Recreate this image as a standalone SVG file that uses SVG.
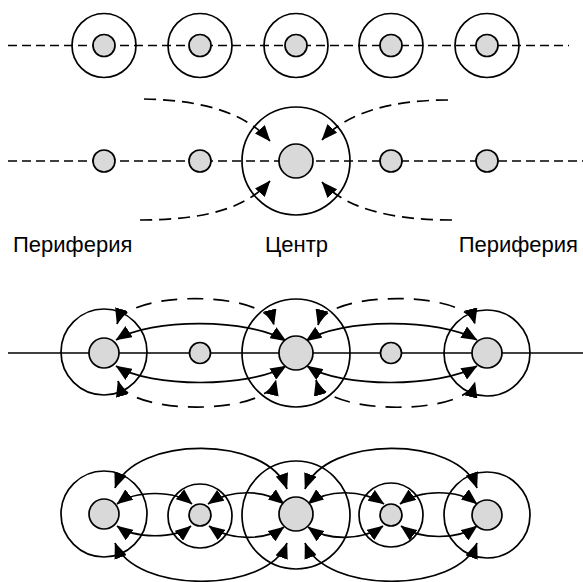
<svg xmlns="http://www.w3.org/2000/svg" width="583" height="582" viewBox="0 0 583 582">
<style>
.ring{fill:none;stroke:#000;stroke-width:1.7}
.core{fill:#d9d9d9;stroke:#000;stroke-width:1.7}
.dash{fill:none;stroke:#000;stroke-width:1.7;stroke-dasharray:9,5}
.dc{fill:none;stroke:#000;stroke-width:1.7;stroke-dasharray:12,7}
.dl{fill:none;stroke:#000;stroke-width:1.7;stroke-dasharray:16,10}
.solid{fill:none;stroke:#000;stroke-width:1.7}
.arr{marker-end:url(#ah)}
.arr2{marker-start:url(#ah);marker-end:url(#ah)}
.lbl{font-family:"Liberation Sans",Arial,sans-serif;font-size:22px;fill:#000}
</style>
<defs>
<marker id="ah" markerUnits="userSpaceOnUse" viewBox="0 0 16 13" markerWidth="16" markerHeight="13" refX="15.5" refY="6.5" orient="auto-start-reverse">
<path d="M0,0 L16,6.5 L0,13 z" fill="#000"/>
</marker>
</defs>
<rect width="583" height="582" fill="#fff"/>

<!-- Row 1 -->
<g id="connectors-row1">
<line class="dash" x1="8" y1="45.5" x2="569" y2="45.5"/>
</g>
<g id="r1n1"><circle class="ring" cx="104" cy="45.5" r="32"/><circle class="core" cx="104" cy="45.5" r="11"/></g>
<g id="r1n2"><circle class="ring" cx="200" cy="45.5" r="32"/><circle class="core" cx="200" cy="45.5" r="11"/></g>
<g id="r1n3"><circle class="ring" cx="296" cy="45.5" r="32"/><circle class="core" cx="296" cy="45.5" r="11"/></g>
<g id="r1n4"><circle class="ring" cx="391" cy="45.5" r="32"/><circle class="core" cx="391" cy="45.5" r="11"/></g>
<g id="r1n5"><circle class="ring" cx="487" cy="45.5" r="32"/><circle class="core" cx="487" cy="45.5" r="11"/></g>

<!-- Row 2 -->
<g id="connectors-row2">
<line class="dash" x1="8" y1="161" x2="583" y2="161"/>
<path class="dc arr" d="M144,99 C200,100 245,112 270,141"/>
<path class="dc arr" d="M448,100 C393,100 347,112 322,140"/>
<path class="dc arr" d="M140,220 C200,220 245,210 270,181"/>
<path class="dc arr" d="M452,220 C395,220 347,210 322,182"/>
</g>
<g id="r2n1"><circle class="core" cx="104" cy="161" r="11"/></g>
<g id="r2n2"><circle class="core" cx="200" cy="161" r="11"/></g>
<g id="r2c"><circle class="ring" cx="296" cy="161" r="54"/><circle class="core" cx="296" cy="161" r="17"/></g>
<g id="r2n4"><circle class="core" cx="391" cy="161" r="11"/></g>
<g id="r2n5"><circle class="core" cx="487" cy="161" r="11"/></g>

<g id="labels">
<text class="lbl" x="13" y="252">Периферия</text>
<text class="lbl" x="265" y="252">Центр</text>
<text class="lbl" x="578" y="252" text-anchor="end">Периферия</text>
</g>

<!-- Row 3 -->
<g id="connectors-row3">
<line class="solid" x1="8" y1="353" x2="583" y2="353"/>
<path class="solid arr2" d="M116,340 C150,318 250,318 286,341"/>
<path class="solid arr2" d="M116,366 C150,388 250,388 286,366"/>
<path class="solid arr2" d="M306,341 C340,318 440,318 477,340"/>
<path class="solid arr2" d="M307,366 C340,388 440,388 477,366"/>
<path class="dl arr2" d="M117,324 C127,290 265,290 274,325"/>
<path class="dl arr2" d="M118,381 C128,416 267,416 276,380"/>
<path class="dl arr2" d="M318,325 C327,290 466,290 475,324"/>
<path class="dl arr2" d="M316,380 C326,416 466,416 475,382"/>
</g>
<g id="r3n1"><circle class="ring" cx="104" cy="352" r="43"/><circle class="core" cx="104" cy="353" r="15"/></g>
<g id="r3n2"><circle class="core" cx="200" cy="353" r="10.5"/></g>
<g id="r3c"><circle class="ring" cx="296" cy="353" r="54"/><circle class="core" cx="296" cy="353" r="17"/></g>
<g id="r3n4"><circle class="core" cx="391" cy="353" r="10.5"/></g>
<g id="r3n5"><circle class="ring" cx="487" cy="353" r="43"/><circle class="core" cx="487" cy="353" r="15"/></g>

<!-- Row 4 -->
<g id="connectors-row4">
<path class="solid arr2" d="M117,504 C135,490 175,490 192,504"/>
<path class="solid arr2" d="M117,526 C135,539 175,539 191,526"/>
<path class="solid arr2" d="M208,504 C230,489 265,489 284,504"/>
<path class="solid arr2" d="M209,526 C230,541 265,541 284,527"/>
<path class="solid arr2" d="M308,504 C327,489 362,489 384,504"/>
<path class="solid arr2" d="M308,527 C327,541 362,541 383,526"/>
<path class="solid arr2" d="M400,504 C420,489 458,489 477,504"/>
<path class="solid arr2" d="M401,526 C420,540 458,540 477,526"/>
<path class="solid arr2" d="M115,488 C135,435 268,435 287,489"/>
<path class="solid arr2" d="M305,489 C325,435 458,435 477,488"/>
<path class="solid arr2" d="M115,543 C135,594 268,594 287,543"/>
<path class="solid arr2" d="M305,543 C325,594 458,594 477,543"/>
</g>
<g id="r4n1"><circle class="ring" cx="104" cy="514" r="43"/><circle class="core" cx="104" cy="514" r="15"/></g>
<g id="r4n2"><circle class="ring" cx="200" cy="516" r="32"/><circle class="core" cx="200" cy="515" r="11"/></g>
<g id="r4c"><circle class="ring" cx="296" cy="515" r="54"/><circle class="core" cx="296" cy="514" r="17"/></g>
<g id="r4n4"><circle class="ring" cx="391" cy="515" r="32"/><circle class="core" cx="391" cy="515" r="11"/></g>
<g id="r4n5"><circle class="ring" cx="487" cy="515" r="43"/><circle class="core" cx="487" cy="515" r="15"/></g>
</svg>
